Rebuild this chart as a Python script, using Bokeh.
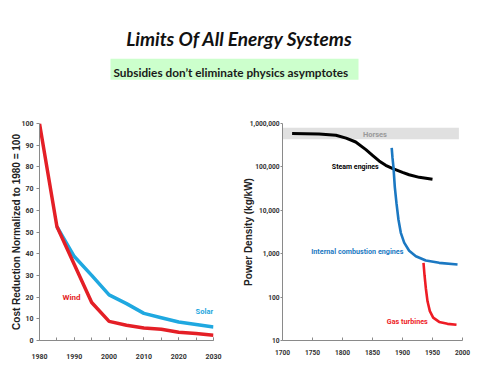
from bokeh.plotting import figure
from bokeh.layouts import column, row
from bokeh.models import (Range1d, Label, BoxAnnotation, SingleIntervalTicker, FixedTicker,
                          NumeralTickFormatter)
from bokeh.core.properties import value
from bokeh.embed import file_html
from bokeh.resources import INLINE

# ---------------- data ----------------
title_text = "Limits Of All Energy Systems"
subtitle_text = "Subsidies don\u2019t eliminate physics asymptotes"

# left chart: cost reduction normalized to 1980 = 100
wind_years = [1980, 1985, 1990, 1995, 2000, 2005, 2010, 2015, 2020, 2025, 2030]
wind_cost = [100, 52.5, 35, 17.5, 8.8, 7.0, 5.8, 5.2, 3.8, 3.2, 2.4]
solar_years = [1985, 1990, 1995, 2000, 2005, 2010, 2015, 2020, 2025, 2030]
solar_cost = [52.5, 38.7, 30, 21, 17, 12.5, 10.5, 8.5, 7.4, 6.2]

# right chart: power density (kg/kW)
steam_years = [1716, 1761, 1789, 1806, 1822, 1839, 1850, 1861, 1872, 1883, 1900, 1911, 1928, 1950]
steam_pd = [585000, 575000, 535000, 460000, 375000, 250000, 185000, 137000, 109000, 92000,
            75000, 66000, 57500, 52000]
ice_years = [1882, 1883.3, 1885, 1887.2, 1890, 1893.3, 1897.2, 1902.8, 1911.1, 1922.2, 1938.9,
             1961.1, 1991.7]
ice_pd = [273000, 163000, 96600, 34200, 14400, 6050, 3030, 1800, 1170, 871, 695, 616, 565]
gas_years = [1935, 1936.7, 1938.9, 1941.7, 1945.6, 1951.1, 1961.1, 1975, 1990]
gas_pd = [615, 319, 160, 80, 47.5, 33.6, 26.8, 24.2, 23]
horses_years = [1700, 1994]
horses_pd = [436000, 795000]
pd_ticks = [10, 100, 1000, 10000, 100000, 1000000]

# ---------------- style ----------------
FONT = "Roboto"
AXIS_COLOR = "#8a8a8a"
RED = "#e41f26"
SKY = "#1fa8e0"
BLUE = "#1b78c2"


def style_axes(p, size):
    for ax in list(p.xaxis) + list(p.yaxis):
        ax.axis_line_color = AXIS_COLOR
        ax.major_tick_line_color = AXIS_COLOR
        ax.minor_tick_line_color = AXIS_COLOR
        ax.major_label_text_font = FONT
        ax.major_label_text_font_style = "bold"
        ax.major_label_text_font_size = size
        ax.major_label_text_color = "#333333"
        ax.axis_label_text_font = "Liberation Sans"
        ax.axis_label_text_font_style = "bold"
        ax.axis_label_text_font_size = "10px"
        ax.axis_label_text_color = "#222222"
    p.xgrid.visible = False
    p.ygrid.visible = False
    p.outline_line_color = None
    p.title.visible = False


def series_label(p, x, y, text, color, size="7.5px", align="center"):
    p.text([x], [y], text=[text], text_color=color, text_font=value(FONT),
           text_font_style="bold", text_font_size=size, text_align=align,
           text_baseline="middle")


# ---------------- header ----------------
top = figure(width=480, height=103, x_range=Range1d(0, 480), y_range=Range1d(0, 103),
             output_backend="svg", toolbar_location=None, x_axis_location=None,
             y_axis_location=None, min_border_left=0, min_border_right=0,
             min_border_top=0, min_border_bottom=0)
top.grid.visible = False
top.outline_line_color = None
top.title.visible = False
top.add_layout(BoxAnnotation(left=110, right=358, bottom=23.7, top=44.7,
                             fill_color="#ccffcc", fill_alpha=1, line_color=None))
top.add_layout(Label(x=239, y=65.3, text=title_text, text_align="center",
                     text_baseline="alphabetic", text_font="Lato",
                     text_font_style="bold italic", text_font_size="19px",
                     text_color="#111111"))
top.add_layout(Label(x=113, y=31.3, text=subtitle_text, text_align="left",
                     text_baseline="alphabetic", text_font="Lato",
                     text_font_style="bold", text_font_size="11.8px",
                     text_color="#1a1a1a"))

# ---------------- left chart ----------------
left = figure(width=232, height=264, x_range=Range1d(1980, 2030), y_range=Range1d(0, 100),
              output_backend="svg", toolbar_location=None,
              min_border_left=39, min_border_right=19, min_border_top=20, min_border_bottom=25)
left.line(solar_years, solar_cost, line_color=SKY, line_width=3.5)
left.line(wind_years, wind_cost, line_color=RED, line_width=3.5)
series_label(left, 1989.2, 19.6, "Wind", RED, "8px")
series_label(left, 2029.9, 13.2, "Solar", SKY, "7.5px", "right")
left.xaxis.ticker = SingleIntervalTicker(interval=10, num_minor_ticks=2)
left.yaxis.ticker = SingleIntervalTicker(interval=10, num_minor_ticks=0)
left.yaxis.axis_label = "Cost Reduction Normalized to 1980 = 100"
style_axes(left, "7px")
left.xaxis.major_tick_in = 3
left.xaxis.major_tick_out = 0
left.xaxis.minor_tick_in = 3
left.xaxis.minor_tick_out = 0
left.xaxis.major_label_standoff = 13
left.yaxis.major_tick_in = 0
left.yaxis.major_tick_out = 3
left.yaxis.major_label_standoff = 3
left.yaxis.axis_label_standoff = -4

# ---------------- right chart ----------------
right = figure(width=248, height=264, x_range=Range1d(1700, 2000), y_range=Range1d(10, 1000000),
               y_axis_type="log", output_backend="svg", toolbar_location=None,
               min_border_left=50, min_border_right=18, min_border_top=15, min_border_bottom=27)
right.varea(x=horses_years, y1=[horses_pd[0]] * 2, y2=[horses_pd[1]] * 2,
            fill_color="#e0e0e0")
series_label(right, 1854, 572000, "Horses", "#9a9a9a", "7.5px")
right.line(steam_years, steam_pd, line_color="#000000", line_width=3.0)
right.line(ice_years, ice_pd, line_color=BLUE, line_width=2.6)
right.line(gas_years, gas_pd, line_color="#ee1c25", line_width=2.6)
series_label(right, 1821.3, 102000, "Steam engines", "#000000", "7px")
series_label(right, 1824.7, 1130, "Internal combustion engines", BLUE, "7.2px")
series_label(right, 1908, 27, "Gas turbines", "#ee1c25", "7.2px")
right.xaxis.ticker = SingleIntervalTicker(interval=50, num_minor_ticks=0)
right.yaxis.ticker = FixedTicker(ticks=pd_ticks, minor_ticks=[])
right.yaxis.formatter = NumeralTickFormatter(format="0,0")
right.yaxis.axis_label = "Power Density (kg/kW)"
style_axes(right, "6.6px")
right.xaxis.major_tick_in = 3
right.xaxis.major_tick_out = 0
right.xaxis.major_label_standoff = 9
right.yaxis.major_tick_in = 0
right.yaxis.major_tick_out = 2
right.yaxis.major_label_standoff = 1
right.yaxis.axis_label_standoff = -7

layout = column(top, row(left, right))
open("out.html", "w").write(file_html(layout, INLINE))
